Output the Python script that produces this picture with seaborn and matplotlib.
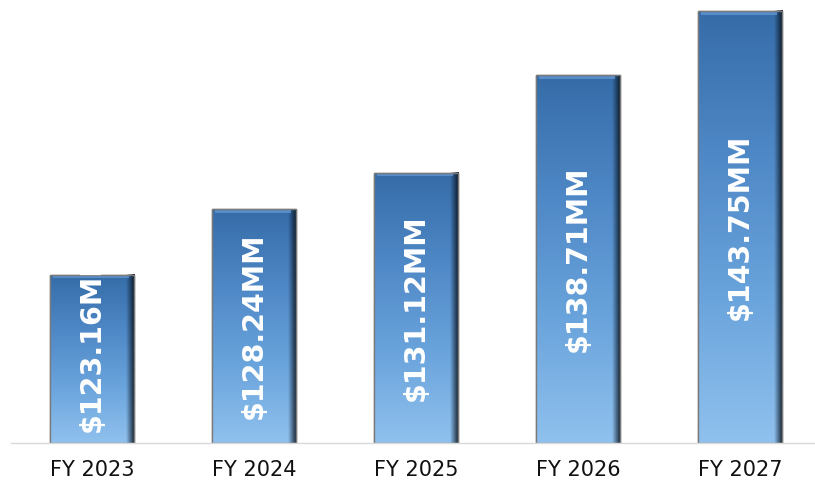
import numpy as np
import pandas as pd
import matplotlib.pyplot as plt
import seaborn as sns
from matplotlib.colors import LinearSegmentedColormap

years = ['FY 2023', 'FY 2024', 'FY 2025', 'FY 2026', 'FY 2027']
revenue = [123.16, 128.24, 131.12, 138.71, 143.75]
labels = ['$123.16MM', '$128.24MM', '$131.12MM', '$138.71MM', '$143.75MM']

df = pd.DataFrame({'Year': years, 'Revenue': revenue})

sns.set_style('white')
plt.rcParams['font.family'] = ['DejaVu Sans']

fig = plt.figure(figsize=(8.15, 4.83), dpi=100)
ax = fig.add_axes([11 / 815, 40 / 483, 810 / 815, 443 / 483])

sns.barplot(data=df, x='Year', y='Revenue', color='#4f88c6', width=0.52,
            edgecolor='#7a7a7a', linewidth=1.0, ax=ax)
ax.set_ylim(110, 144.6)
ax.set_xlim(-0.5, 4.5)

# vertical gradient: light blue at bottom, darker blue at top
cmap = LinearSegmentedColormap.from_list('bar', ['#90c1ee', '#6aa4dc', '#4f88c6', '#356ca8'])
grad = np.linspace(0, 1, 256).reshape(-1, 1)
# horizontal shade for the right edge
edge = np.linspace(0, 1, 64).reshape(1, -1)
edge_cmap = LinearSegmentedColormap.from_list('edge', [(0.05, 0.1, 0.16, 0.0), (0.03, 0.06, 0.1, 0.95)])

for i, bar in enumerate(ax.patches):
    x0, w = bar.get_x(), bar.get_width()
    top = bar.get_height()
    z = bar.get_zorder()
    im = ax.imshow(grad, cmap=cmap, aspect='auto', origin='lower',
                   extent=(x0, x0 + w, 110, top), zorder=z + 0.1)
    im.set_clip_path(bar)
    ax.imshow(edge, cmap=edge_cmap, aspect='auto', origin='lower',
              extent=(x0 + w * 0.9, x0 + w, 110, top), zorder=z + 0.2)
    # light bevel at the top
    ax.fill_between([x0 + w * 0.04, x0 + w * 0.94], top - 0.3, top - 0.06, color='#5a90cc',
                    alpha=0.9, linewidth=0, zorder=z + 0.2)
    ax.add_patch(plt.Rectangle((x0, 110), w, top - 110, fill=False, edgecolor='#7a7a7a',
                               linewidth=1.0, zorder=z + 0.3))

    cx = x0 + w / 2
    if i == 0:
        t = ax.text(cx, 110.85, labels[i], rotation=90, ha='center', va='bottom',
                    color='white', fontsize=20.5, fontweight='bold', zorder=5)
        t.set_clip_path(bar)
    else:
        ax.text(cx, (110 + top) / 2, labels[i], rotation=90, ha='center', va='center',
                color='white', fontsize=20.5, fontweight='bold', zorder=5)

ax.set_xlabel('')
ax.set_ylabel('')
ax.set_yticks([])
ax.tick_params(axis='x', length=0, labelsize=15, pad=12, colors='#111111')
for s in ['top', 'right', 'left']:
    ax.spines[s].set_visible(False)
ax.spines['bottom'].set_color('#d9d9d9')
ax.spines['bottom'].set_linewidth(1.0)

fig.savefig('out.png', dpi=100)
